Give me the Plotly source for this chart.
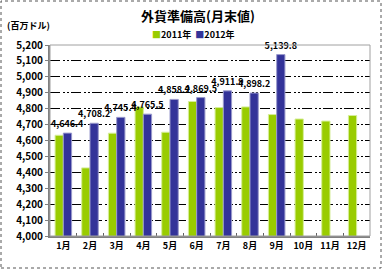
import plotly.graph_objects as go

months = ["1月", "2月", "3月", "4月", "5月", "6月", "7月", "8月", "9月", "10月", "11月", "12月"]
v2011 = [4633, 4428, 4646, 4811, 4652, 4845, 4807, 4811, 4763, 4735, 4722, 4757]
v2012 = [4646.4, 4708.2, 4745.4, 4765.5, 4858.2, 4869.5, 4911.9, 4898.2, 5139.8]
labels2012 = ["{:,.1f}".format(v) for v in v2012]
yticks = list(range(4000, 5201, 100))

FONT = "Noto Sans CJK JP"
W, H = 382, 269
L, R, T, B = 50, 12, 45, 33
pw, ph = W - L - R, H - T - B
GREEN, BLUE = "#99CC00", "#333399"

fig = go.Figure()
fig.add_trace(go.Bar(
    x=months, y=v2011, name="2011年",
    marker=dict(color=GREEN, line=dict(color="#D6EE99", width=1)),
))
fig.add_trace(go.Bar(
    x=months[:len(v2012)], y=v2012, name="2012年",
    marker=dict(color=BLUE, line=dict(color="#9999CC", width=1)),
    text=labels2012, textposition="outside", constraintext="none",
    textfont=dict(family=FONT, size=9, color="black", weight="bold"),
    cliponaxis=False,
))

fig.update_layout(
    width=W, height=H,
    margin=dict(l=L, r=R, t=T, b=B, autoexpand=False),
    paper_bgcolor="white", plot_bgcolor="white",
    barmode="group", bargap=0.38, bargroupgap=0.0,
    font=dict(family=FONT, size=10, color="black"),
    title=dict(text="<b>外貨準備高(月末値)</b>", x=198 / W, xanchor="center",
               y=1 - 16 / H, yanchor="middle", font=dict(size=13, family=FONT)),
    showlegend=False,
)
fig.update_yaxes(
    range=[4000, 5200], tickvals=yticks, tickformat=",d",
    tickfont=dict(size=10, family=FONT, weight="bold"),
    showgrid=True, gridcolor="black", gridwidth=1, griddash="10px,3px,2px,2px,2px,2px",
    showline=True, linecolor="#808080", linewidth=2,
    ticks="outside", ticklen=3, tickcolor="#808080", zeroline=False,
)
fig.update_xaxes(
    tickfont=dict(size=9, family=FONT, weight="bold"), tickangle=0,
    showline=True, linecolor="#808080", linewidth=2,
    ticks="inside", tickson="boundaries", ticklen=3, tickcolor="#606060",
    showgrid=False,
)
# plot area frame
fig.add_shape(type="rect", xref="paper", yref="paper", x0=0, x1=1, y0=0, y1=1,
              line=dict(color="#A0A0A0", width=1), layer="above")
# outer dotted border
fig.add_shape(type="rect", xref="paper", yref="paper",
              x0=-(L - 1) / pw, x1=1 + (R - 1) / pw,
              y0=-(B - 1) / ph, y1=1 + (T - 1) / ph,
              line=dict(color="#555555", width=1, dash="dot"))
fig.add_annotation(text="<b>(百万ドル)</b>", xref="paper", yref="paper",
                   x=-(L - 5) / pw, y=1 + 20 / ph, xanchor="left", yanchor="middle",
                   showarrow=False, font=dict(size=9, family=FONT))
# legend
fig.add_annotation(
    text=("<span style='color:%s'>■</span><b>2011年</b>  "
          "<span style='color:%s'>■</span><b>2012年</b>") % (GREEN, BLUE),
    xref="paper", yref="paper", x=(150 - L) / pw, y=1 + 11 / ph,
    xanchor="left", yanchor="middle", showarrow=False,
    font=dict(size=9, family=FONT))

fig.write_html("out.html")
